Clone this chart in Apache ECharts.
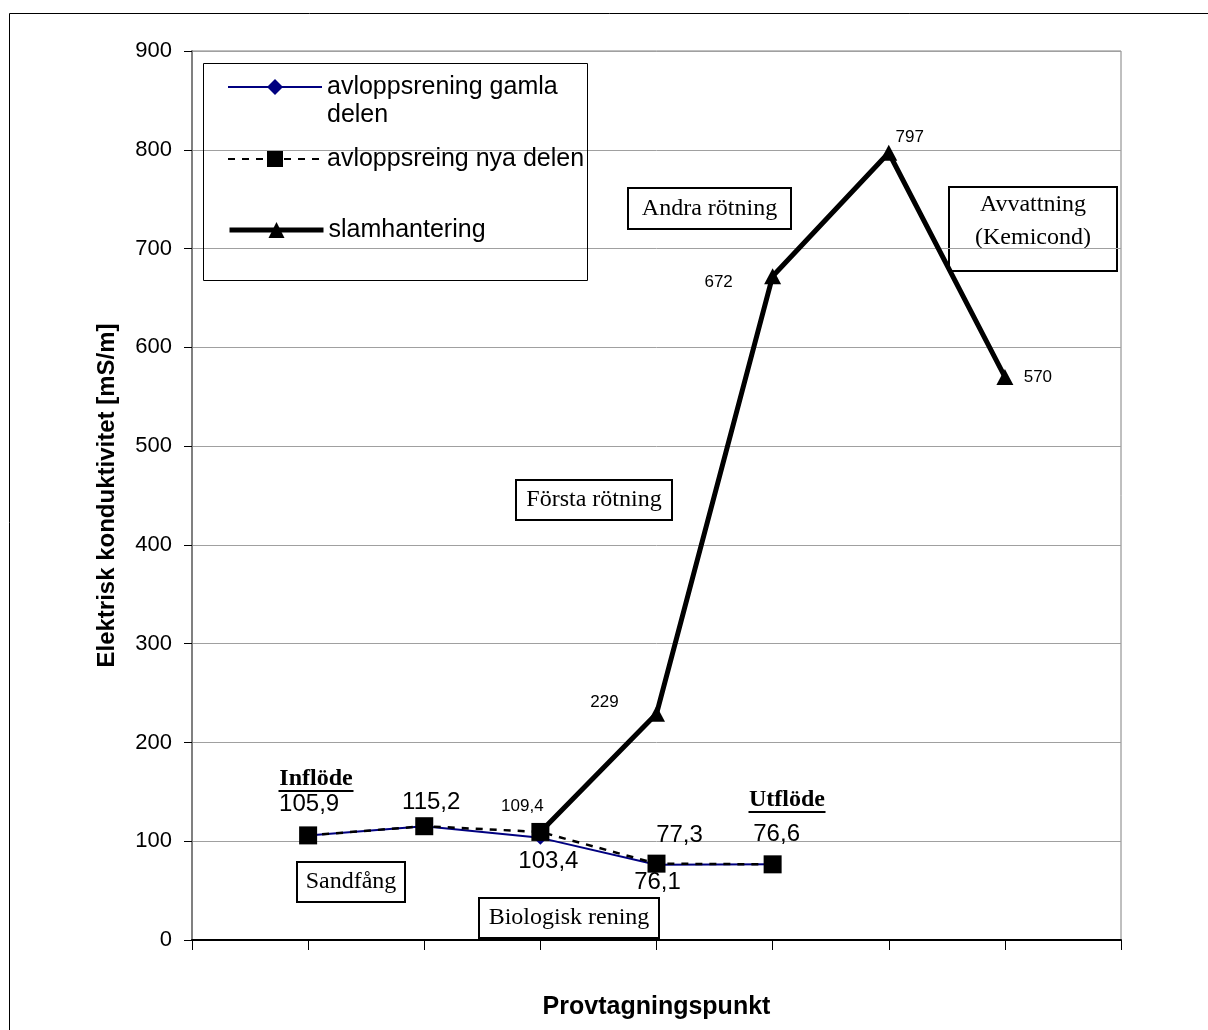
<!DOCTYPE html>
<html>
<head>
<meta charset="utf-8">
<title>Elektrisk konduktivitet</title>
<script src="https://cdn.jsdelivr.net/npm/echarts@6/dist/echarts.min.js"></script>
<style>
  html, body { margin: 0; padding: 0; background: #fff; }
  #chart { width: 1208px; height: 1030px; }
</style>
</head>
<body>
<div id="chart"></div>
<script>
// Sampling points along the plant (x positions 1..7 on a 0..8 axis)
const gamlaX = [1, 2, 3, 4, 5];
const gamlaDelen = [105.9, 115.2, 103.4, 76.1, 76.6];
const nyaX = [1, 2, 3, 4, 5];
const nyaDelen = [105.9, 115.2, 109.4, 77.3, 76.6];
const slamX = [3, 4, 5, 6, 7];
const slamhantering = [109.4, 229, 672, 797, 570];

const seriesNames = ['avloppsrening gamla delen', 'avloppsreing nya delen', 'slamhantering'];
const yMin = 0, yMax = 900, yStep = 100;
const xMin = 0, xMax = 8;

const SANS = 'Liberation Sans, Arial, sans-serif';
const SERIF = 'Liberation Serif, Times New Roman, serif';
const fmt = v => String(v).replace('.', ',');

// label placement per point: [dx, dy, fontSize] or null
const gamlaLabels = [[1, -31, 24], [7, -24, 24], [8, 24, 24], [1, 18, 24], null];
const nyaLabels = [null, null, null, [23, -28, 24], [4, -30, 24]];
const slamLabels = [[-18, -26, 17], [-52, -11, 17], [-54, 6, 17], [21, -15, 17], [33, 0, 17]];

function buildData(xs, ys, labels) {
  return ys.map((v, i) => {
    const item = { value: [xs[i], v] };
    const l = labels[i];
    if (l) {
      item.label = {
        show: true, position: 'inside', offset: [l[0], l[1]],
        fontSize: l[2], fontFamily: SANS, color: '#000',
        formatter: p => fmt(p.value[1])
      };
    }
    return item;
  });
}

const chart = echarts.init(document.getElementById('chart'), null, { renderer: 'canvas' });

function legendAt(name, top, lineWidth, text) {
  return {
    data: [name], left: 227, top: top, orient: 'vertical', padding: 0,
    itemWidth: 94, itemHeight: 20, selectedMode: false,
    lineStyle: { width: lineWidth },
    formatter: () => text,
    textStyle: { fontFamily: SANS, fontSize: 25, lineHeight: 28, color: '#000' }
  };
}

// framed annotation label
function boxLabel(x, y, w, h, lines, dy) {
  const children = [{
    type: 'rect', shape: { x: x, y: y, width: w, height: h },
    style: { fill: '#fff', stroke: '#000', lineWidth: 2 }
  }];
  const lh = 33;
  lines.forEach((t, i) => {
    children.push({
      type: 'text',
      style: {
        x: x + w / 2, y: y + h / 2 + (dy || 0) + (i - (lines.length - 1) / 2) * lh,
        text: t, font: '24px ' + SERIF, fill: '#000', align: 'center', verticalAlign: 'middle'
      }
    });
  });
  return { type: 'group', children: children, z: 50 };
}

function underlined(cx, cy, text, width) {
  return {
    type: 'group', z: 50, children: [
      { type: 'text', style: { x: cx, y: cy, text: text, font: 'bold 24px ' + SERIF, fill: '#000', align: 'center', verticalAlign: 'middle' } },
      { type: 'line', shape: { x1: cx - width / 2, y1: cy + 12, x2: cx + width / 2, y2: cy + 12 }, style: { stroke: '#000', lineWidth: 2 } }
    ]
  };
}

const option = {
  animation: false,
  backgroundColor: '#fff',
  grid: {
    left: 192, top: 51, width: 929, height: 889,
    show: true, borderColor: '#808080', borderWidth: 1, backgroundColor: 'transparent'
  },
  legend: [
    legendAt(seriesNames[0], 45, 2, '\navloppsrening gamla\ndelen'),
    legendAt(seriesNames[1], 145, 2, 'avloppsreing nya delen'),
    legendAt(seriesNames[2], 216, 5, 'slamhantering')
  ],
  xAxis: {
    type: 'value', min: xMin, max: xMax, interval: 1,
    name: 'Provtagningspunkt', nameLocation: 'middle', nameGap: 55,
    nameTextStyle: { fontFamily: SANS, fontSize: 25, fontWeight: 'bold', color: '#000' },
    axisLine: { show: true, onZero: false, lineStyle: { color: '#000', width: 2 } },
    axisTick: { show: true, inside: false, length: 10, lineStyle: { color: '#000', width: 1 } },
    axisLabel: { show: false },
    splitLine: { show: false }
  },
  yAxis: {
    type: 'value', min: yMin, max: yMax, interval: yStep,
    name: 'Elektrisk konduktivitet [mS/m]', nameLocation: 'middle', nameGap: 73,
    nameTextStyle: { fontFamily: SANS, fontSize: 24, fontWeight: 'bold', color: '#000' },
    axisLine: { show: true, lineStyle: { color: '#808080', width: 2 } },
    axisTick: { show: true, length: 8, lineStyle: { color: '#000', width: 1 } },
    axisLabel: { fontFamily: SANS, fontSize: 22, color: '#000', margin: 20 },
    splitLine: { show: true, lineStyle: { color: '#a0a0a0', width: 1 } }
  },
  series: [
    {
      name: seriesNames[0], type: 'line', z: 3,
      data: buildData(gamlaX, gamlaDelen, gamlaLabels),
      symbol: 'diamond', symbolSize: 14,
      lineStyle: { color: '#000080', width: 2 },
      itemStyle: { color: '#000080' },
      label: { show: false }
    },
    {
      name: seriesNames[1], type: 'line', z: 4,
      data: buildData(nyaX, nyaDelen, nyaLabels),
      symbol: 'rect', symbolSize: 18,
      lineStyle: { color: '#000', width: 2.5, type: [7, 7] },
      itemStyle: { color: '#000' },
      label: { show: false }
    },
    {
      name: seriesNames[2], type: 'line', z: 2,
      data: buildData(slamX, slamhantering, slamLabels),
      symbol: 'triangle', symbolSize: [17, 16],
      lineStyle: { color: '#000', width: 5 },
      itemStyle: { color: '#000' },
      label: { show: false }
    }
  ],
  graphic: [
    { type: 'rect', z: -1, shape: { x: 9.5, y: 13.5, width: 1400, height: 1200 }, style: { fill: 'none', stroke: '#000', lineWidth: 1 } },
    { type: 'rect', z: 40, shape: { x: 203.5, y: 63.5, width: 384, height: 217 }, style: { fill: 'none', stroke: '#000', lineWidth: 1 } },
    boxLabel(297, 862, 108, 40, ['Sandfång']),
    boxLabel(479, 898, 180, 40, ['Biologisk rening']),
    boxLabel(516, 480, 156, 40, ['Första rötning']),
    boxLabel(628, 188, 163, 41, ['Andra rötning']),
    boxLabel(949, 187, 168, 84, ['Avvattning', '(Kemicond)'], -8),
    underlined(316, 779, 'Inflöde', 75),
    underlined(787, 800, 'Utflöde', 77)
  ]
};

chart.setOption(option);
</script>
</body>
</html>
